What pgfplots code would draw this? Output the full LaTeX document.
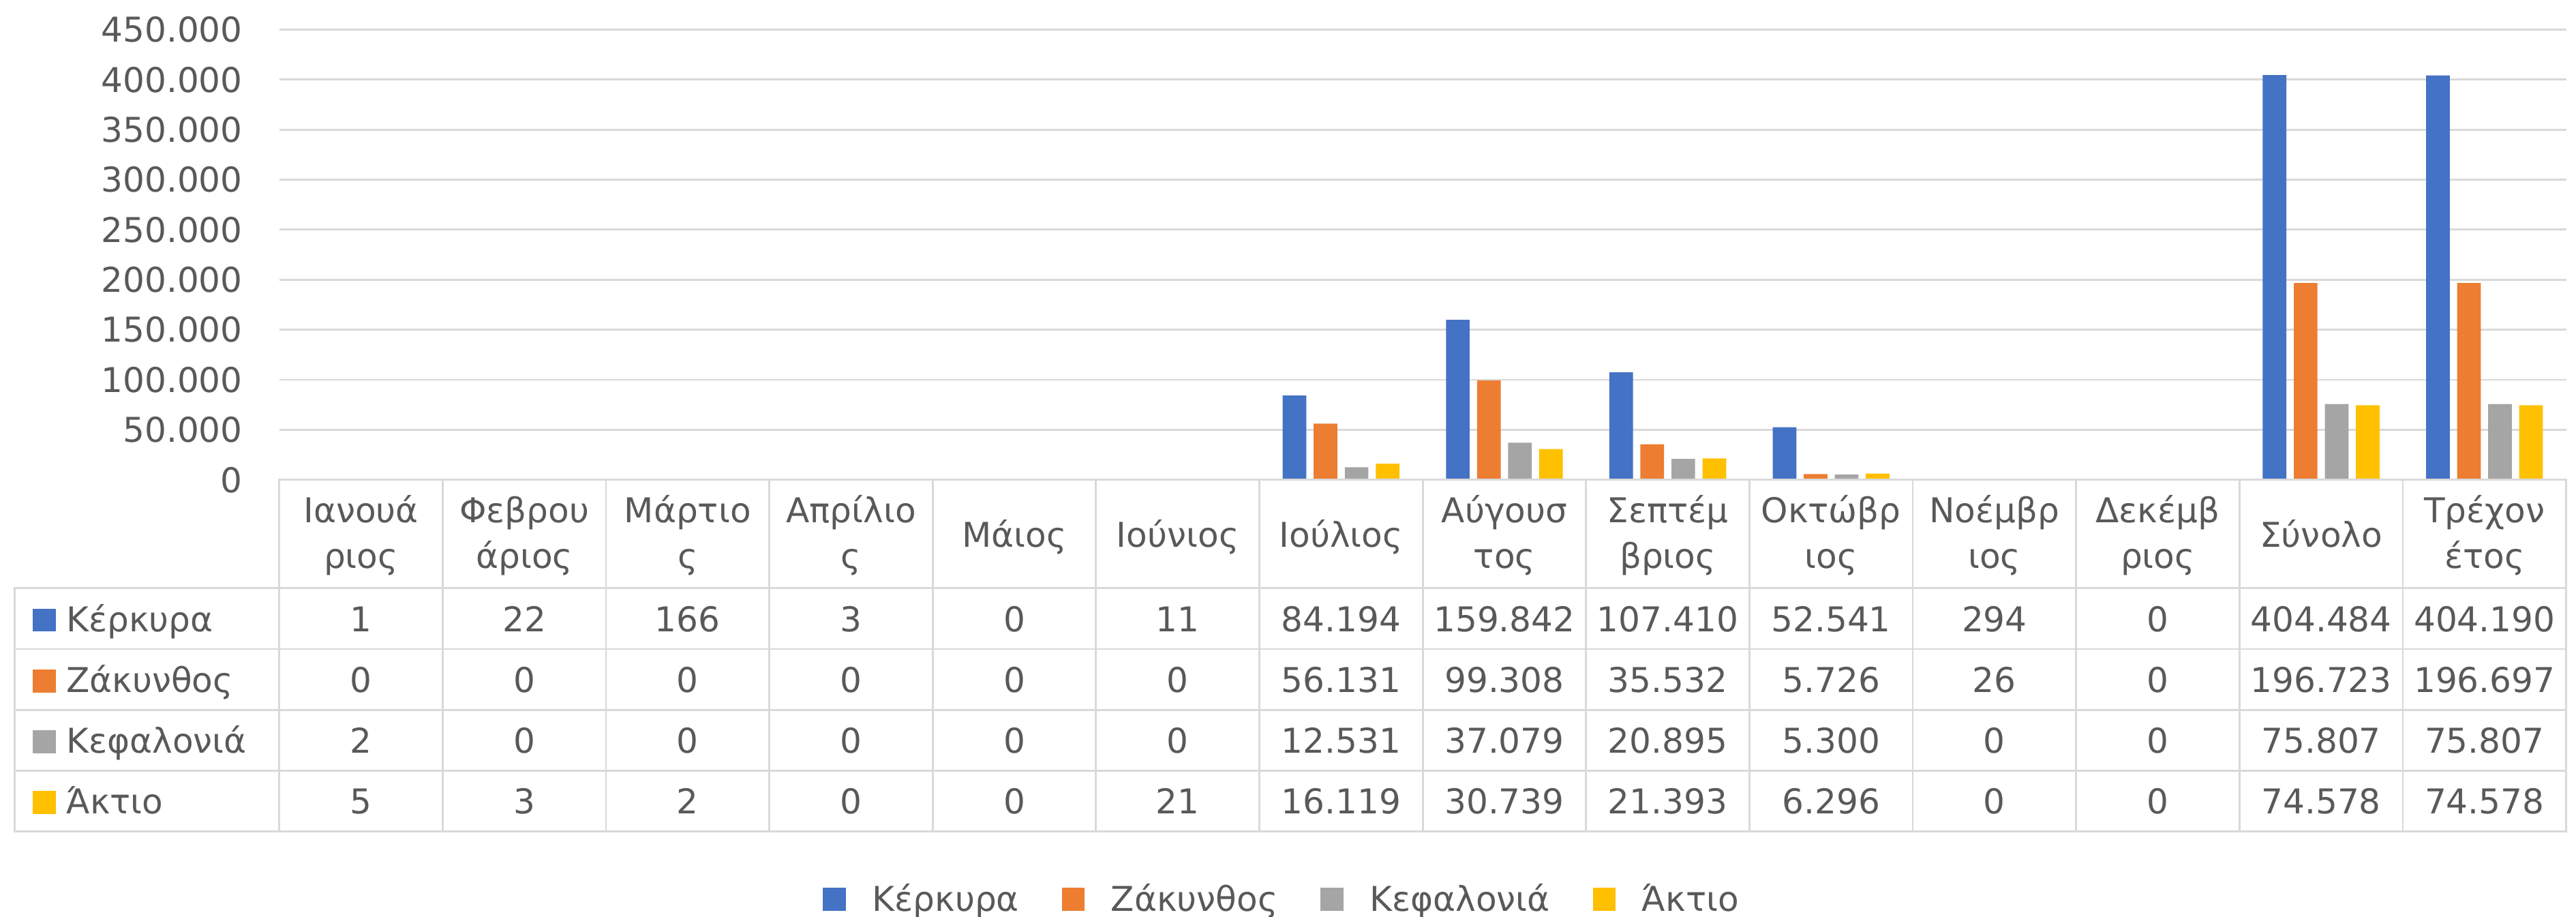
\documentclass[border=0pt]{standalone}
\usepackage{pgfplots}
\usepackage{pgfplotstable}
\pgfplotsset{compat=1.18}
\usepackage{fontspec}
\setmainfont{DejaVu Sans}
\definecolor{cK}{HTML}{4472C4}
\definecolor{cZ}{HTML}{ED7D31}
\definecolor{cKef}{HTML}{A5A5A5}
\definecolor{cA}{HTML}{FFC000}
\definecolor{txt}{HTML}{595959}
\definecolor{gridc}{HTML}{D9D9D9}
\newcommand{\fs}{\fontsize{10.4}{12}\selectfont}

\pgfplotstableread{
x K Z Kef A
0 1 0 2 5
1 22 0 0 3
2 166 0 0 2
3 3 0 0 0
4 0 0 0 0
5 11 0 0 21
6 84194 56131 12531 16119
7 159842 99308 37079 30739
8 107410 35532 20895 21393
9 52541 5726 5300 6296
10 294 26 0 0
11 0 0 0 0
12 404484 196723 75807 74578
13 404190 196697 75807 74578
}\data

\begin{document}
\begin{tikzpicture}
\useasboundingbox (-85pt,-133pt) rectangle (699pt,146pt);
\begin{axis}[
  at={(0,0)}, anchor=south west,
  scale only axis, width=696pt, height=137pt,
  xmin=-0.5, xmax=13.5, ymin=0, ymax=450000,
  axis line style={draw=none},
  xtick=\empty,
  ytick={0,50000,...,450000},
  scaled y ticks=false,
  major tick length=0pt,
  yticklabel style={font=\fs, text=txt, inner sep=0pt, xshift=-11pt},
  /pgf/number format/fixed,
  /pgf/number format/precision=0,
  /pgf/number format/1000 sep={.},
  /pgf/number format/assume math mode=true,
  ymajorgrids, grid style={gridc, line width=0.6pt},
  ybar=2.25pt, bar width=7.2pt,
  clip=false,
  legend columns=4,
  legend style={at={(0.438,-0.934)}, anchor=center, draw=none, font=\fs, text=txt,
    nodes={inner sep=0pt},
    /tikz/every odd column/.append style={column sep=8pt},
    /tikz/every even column/.append style={column sep=13pt}},
  legend image code/.code={\fill[#1] (0pt,-3.2pt) rectangle (7pt,3.8pt);},
]
\addplot[fill=cK, draw=none] table[x=x,y=K]{\data};
\addplot[fill=cZ, draw=none] table[x=x,y=Z]{\data};
\addplot[fill=cKef, draw=none] table[x=x,y=Kef]{\data};
\addplot[fill=cA, draw=none] table[x=x,y=A]{\data};
\legend{Κέρκυρα, Ζάκυνθος, Κεφαλονιά, Άκτιο}
\end{axis}

\begin{scope}[shift={(-85pt,146pt)}, x=0.5pt, y=-0.5pt]
  \draw[gridc, line width=0.6pt] (170,292) rectangle (1562,506);
  \draw[gridc, line width=0.6pt] (9,358) rectangle (1562,506);
  \foreach \k in {1,...,13} \draw[gridc, line width=0.6pt] ({170+\k*99.4286},292) -- ({170+\k*99.4286},506);
  \foreach \yy in {395,432,469} \draw[gridc, line width=0.6pt] (9,\yy) -- (1562,\yy);
  % headers
  \foreach \k/\t in {0/Ιανουά,1/Φεβρου,2/Μάρτιο,3/Απρίλιο,7/Αύγουσ,8/Σεπτέμ,9/Οκτώβρ,10/Νοέμβρ,11/Δεκέμβ,13/Τρέχον}
    \node[anchor=base, inner sep=0pt, font=\fs, text=txt] at ({170+(\k+0.5)*99.4286},318) {\t};
  \foreach \k/\t in {0/ριος,1/άριος,2/ς,3/ς,7/τος,8/βριος,9/ιος,10/ιος,11/ριος,13/έτος}
    \node[anchor=base, inner sep=0pt, font=\fs, text=txt] at ({170+(\k+0.5)*99.4286},346) {\t};
  \foreach \k/\t in {4/Μάιος,5/Ιούνιος,6/Ιούλιος,12/Σύνολο}
    \node[anchor=base, inner sep=0pt, font=\fs, text=txt] at ({170+(\k+0.5)*99.4286},333) {\t};
  % row labels
  \foreach \r/\c/\t in {0/cK/Κέρκυρα,1/cZ/Ζάκυνθος,2/cKef/Κεφαλονιά,3/cA/Άκτιο}{
    \fill[\c] (20,{370.5+\r*37}) rectangle (34,{384.4+\r*37});
    \node[anchor=base west, inner sep=0pt, font=\fs, text=txt] at (40,{384.4+\r*37}) {\t};
  }
  % values
  \foreach \k in {0,...,13}{
    \foreach \col/\r in {K/0,Z/1,Kef/2,A/3}{
      \pgfplotstablegetelem{\k}{\col}\of\data
      \node[anchor=base, inner sep=0pt, font=\fs, text=txt] at ({170+(\k+0.5)*99.4286},{384.4+\r*37}) {\pgfmathprintnumber[fixed,precision=0,1000 sep={.},assume math mode=true]{\pgfplotsretval}};
    }
  }
\end{scope}
\end{tikzpicture}
\end{document}
